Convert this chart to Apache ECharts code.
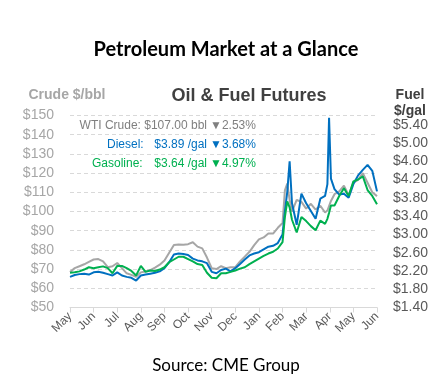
<!DOCTYPE html>
<html><head><meta charset="utf-8">
<script src="https://cdn.jsdelivr.net/npm/echarts@6/dist/echarts.min.js"></script>
<style>html,body{margin:0;padding:0;background:#fff}#c{width:444px;height:389px}</style>
</head><body><div id="c"></div>
<script>
const monthLabels = ['May','Jun','Jul','Aug','Sep','Oct','Nov','Dec','Jan','Feb','Mar','Apr','May','Jun'];
// x positions in months since start (0 = May)
const months = [0,0.2,0.4,0.6,0.8,1.0,1.2,1.4,1.6,1.8,2.0,2.2,2.4,2.6,2.8,3.0,3.2,3.4,3.6,3.8,4.0,4.2,4.4,4.6,4.8,5.0,5.2,5.4,5.6,5.8,6.0,6.2,6.4,6.6,6.8,7.0,7.2,7.4,7.6,7.8,8.0,8.2,8.4,8.6,8.8,9.0,
  9.1,9.2,9.3,9.4,9.6,9.8,10.0,10.2,10.4,10.6,10.8,10.9,10.97,11.05,11.2,11.4,11.6,11.8,12.0,12.2,12.4,12.6,12.8,13.0];
// WTI crude $/bbl (left axis)
const wti = [68.5,70.5,71.5,72.5,73.8,75,75.2,74,71,71.5,73.2,70.5,67.8,67,66,68.3,68.8,69.5,70.8,72.3,74.5,78.5,82.5,82.8,82.7,83,84,81.7,80.8,76,70.5,70,71.5,70.5,71,71,74,76.5,79,82.5,85.5,86.5,88.5,88.5,91.5,94,
  111,114.5,106,100,106,105,101.5,104,101,103,99.5,100.5,101,105.5,109,110.5,113.5,108.5,115,116.5,120,115,110,108];
// Diesel $/gal (right axis)
const diesel = [2.07,2.11,2.13,2.14,2.12,2.17,2.18,2.16,2.13,2.10,2.17,2.10,2.07,2.05,1.99,2.10,2.12,2.14,2.16,2.19,2.26,2.39,2.56,2.58,2.57,2.55,2.47,2.43,2.41,2.37,2.18,2.15,2.22,2.25,2.19,2.26,2.35,2.45,2.54,2.58,2.61,2.67,2.73,2.75,2.81,3.00,
  3.51,3.93,4.60,3.68,3.21,3.89,3.68,3.51,3.34,3.78,3.84,4.10,5.55,4.22,3.99,3.87,3.89,3.80,4.10,4.29,4.41,4.52,4.39,3.94];
// Gasoline $/gal (right axis)
const gasoline = [2.16,2.17,2.19,2.23,2.28,2.26,2.28,2.30,2.26,2.15,2.31,2.31,2.26,2.20,2.10,2.31,2.18,2.21,2.20,2.23,2.28,2.39,2.45,2.51,2.51,2.46,2.41,2.35,2.33,2.16,2.05,2.04,2.15,2.15,2.18,2.21,2.25,2.28,2.35,2.41,2.47,2.53,2.58,2.62,2.69,2.83,
  3.38,3.72,3.59,3.32,3.04,3.38,3.29,3.18,3.09,3.30,3.23,3.34,3.47,3.63,3.63,3.84,4.01,3.84,4.16,4.20,4.27,3.97,3.84,3.66];

const F = '"Liberation Sans", Arial, sans-serif';
const pair = (ys) => months.map((m, i) => [m, ys[i]]);
const chart = echarts.init(document.getElementById('c'), null, {renderer: 'canvas'});
chart.setOption({
  animation: false,
  backgroundColor: '#fff',
  grid: {left: 70, right: 67, top: 115.5, bottom: 81.5},
  xAxis: {
    type: 'value', min: 0, max: 13, interval: 1,
    axisLine: {show: true, onZero: false, lineStyle: {color: '#d9d9d9', width: 1}},
    axisTick: {show: true, length: 5, lineStyle: {color: '#d9d9d9'}},
    splitLine: {show: false},
    axisLabel: {rotate: 45, margin: 7, color: '#595959', fontSize: 12, fontFamily: F,
      formatter: v => monthLabels[Math.round(v)] || ''}
  },
  yAxis: [
    {type: 'value', min: 50, max: 150, interval: 10, position: 'left',
     axisLine: {show: false}, axisTick: {show: false},
     splitLine: {show: true, lineStyle: {color: '#d9d9d9', type: [4, 3], width: 1}},
     axisLabel: {color: '#a6a6a6', fontSize: 14, fontFamily: F, margin: 16, formatter: v => '$' + v}},
    {type: 'value', min: 1.4, max: 5.6, interval: 0.2, position: 'right',
     axisLine: {show: false}, axisTick: {show: false}, splitLine: {show: false},
     axisLabel: {color: '#595959', fontSize: 14, fontFamily: F, margin: 16,
       formatter: v => (v < 5.5 && Math.round((v - 1.4) * 100) % 40 === 0) ? '$' + v.toFixed(2) : ''}}
  ],
  series: [
    {type: 'line', yAxisIndex: 0, data: pair(wti), symbol: 'none', lineStyle: {color: '#a6a6a6', width: 2}},
    {type: 'line', yAxisIndex: 1, data: pair(diesel), symbol: 'none', lineStyle: {color: '#0070c0', width: 2}},
    {type: 'line', yAxisIndex: 1, data: pair(gasoline), symbol: 'none', lineStyle: {color: '#00b050', width: 2}}
  ],
  graphic: [
    {type: 'text', x: 226, y: 50, style: {text: 'Petroleum Market at a Glance', fill: '#000', font: 'bold 20px Lato, ' + F, textAlign: 'center', textVerticalAlign: 'middle'}},
    {type: 'text', x: 249, y: 96, style: {text: 'Oil & Fuel Futures', fill: '#404040', font: 'bold 18px ' + F, textAlign: 'center', textVerticalAlign: 'middle'}},
    {type: 'text', x: 67, y: 95, style: {text: 'Crude $/bbl', fill: '#a6a6a6', font: 'bold 14px ' + F, textAlign: 'center', textVerticalAlign: 'middle'}},
    {type: 'text', x: 410, y: 95, style: {text: 'Fuel', fill: '#404040', font: 'bold 14px ' + F, textAlign: 'center', textVerticalAlign: 'middle'}},
    {type: 'text', x: 410, y: 111, style: {text: '$/gal', fill: '#404040', font: 'bold 14px ' + F, textAlign: 'center', textVerticalAlign: 'middle'}},
    {type: 'text', x: 207, y: 126, style: {text: 'WTI Crude: $107.00 bbl', fill: '#7f7f7f', font: '12px ' + F, textAlign: 'right', textVerticalAlign: 'middle'}},
    {type: 'text', x: 210, y: 126, style: {text: '▼2.53%', fill: '#7f7f7f', font: '12px ' + F, textAlign: 'left', textVerticalAlign: 'middle'}},
    {type: 'text', x: 107, y: 145, style: {text: 'Diesel:', fill: '#0070c0', font: '12px ' + F, textAlign: 'left', textVerticalAlign: 'middle'}},
    {type: 'text', x: 207, y: 145, style: {text: '$3.89 /gal', fill: '#0070c0', font: '12px ' + F, textAlign: 'right', textVerticalAlign: 'middle'}},
    {type: 'text', x: 210, y: 145, style: {text: '▼3.68%', fill: '#0070c0', font: '12px ' + F, textAlign: 'left', textVerticalAlign: 'middle'}},
    {type: 'text', x: 92, y: 164, style: {text: 'Gasoline:', fill: '#00b050', font: '12px ' + F, textAlign: 'left', textVerticalAlign: 'middle'}},
    {type: 'text', x: 207, y: 164, style: {text: '$3.64 /gal', fill: '#00b050', font: '12px ' + F, textAlign: 'right', textVerticalAlign: 'middle'}},
    {type: 'text', x: 210, y: 164, style: {text: '▼4.97%', fill: '#00b050', font: '12px ' + F, textAlign: 'left', textVerticalAlign: 'middle'}},
    {type: 'text', x: 226, y: 366, style: {text: 'Source: CME Group', fill: '#000', font: '17px Lato, ' + F, textAlign: 'center', textVerticalAlign: 'middle'}}
  ]
});
</script></body></html>
